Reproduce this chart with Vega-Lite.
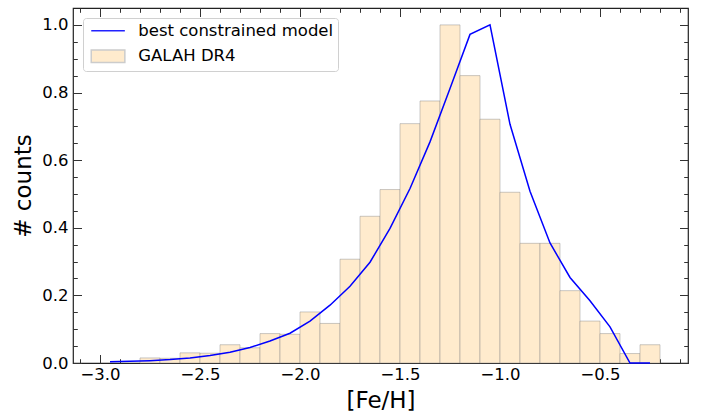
{
  "$schema": "https://vega.github.io/schema/vega-lite/v6.json",
  "width": 615,
  "height": 355,
  "autosize": "none",
  "padding": {"left": 73, "top": 8, "right": 15, "bottom": 51},
  "datasets": {
    "hist": [
      {"x0": -2.8, "x1": -2.7, "h": 0.015},
      {"x0": -2.7, "x1": -2.6, "h": 0.014},
      {"x0": -2.6, "x1": -2.5, "h": 0.030},
      {"x0": -2.5, "x1": -2.4, "h": 0.029},
      {"x0": -2.4, "x1": -2.3, "h": 0.054},
      {"x0": -2.3, "x1": -2.2, "h": 0.045},
      {"x0": -2.2, "x1": -2.1, "h": 0.087},
      {"x0": -2.1, "x1": -2.0, "h": 0.085},
      {"x0": -2.0, "x1": -1.9, "h": 0.151},
      {"x0": -1.9, "x1": -1.8, "h": 0.117},
      {"x0": -1.8, "x1": -1.7, "h": 0.307},
      {"x0": -1.7, "x1": -1.6, "h": 0.434},
      {"x0": -1.6, "x1": -1.5, "h": 0.513},
      {"x0": -1.5, "x1": -1.4, "h": 0.708},
      {"x0": -1.4, "x1": -1.3, "h": 0.775},
      {"x0": -1.3, "x1": -1.2, "h": 1.0},
      {"x0": -1.2, "x1": -1.1, "h": 0.850},
      {"x0": -1.1, "x1": -1.0, "h": 0.721},
      {"x0": -1.0, "x1": -0.9, "h": 0.505},
      {"x0": -0.9, "x1": -0.8, "h": 0.354},
      {"x0": -0.8, "x1": -0.7, "h": 0.354},
      {"x0": -0.7, "x1": -0.6, "h": 0.214},
      {"x0": -0.6, "x1": -0.5, "h": 0.124},
      {"x0": -0.5, "x1": -0.4, "h": 0.087},
      {"x0": -0.4, "x1": -0.3, "h": 0.028},
      {"x0": -0.3, "x1": -0.2, "h": 0.054}
    ],
    "model": [
      {"x": -2.95, "y": 0.004},
      {"x": -2.85, "y": 0.005},
      {"x": -2.75, "y": 0.007},
      {"x": -2.65, "y": 0.010},
      {"x": -2.55, "y": 0.015},
      {"x": -2.45, "y": 0.022},
      {"x": -2.35, "y": 0.032},
      {"x": -2.25, "y": 0.046},
      {"x": -2.15, "y": 0.065},
      {"x": -2.05, "y": 0.088},
      {"x": -1.95, "y": 0.124},
      {"x": -1.85, "y": 0.171},
      {"x": -1.75, "y": 0.227},
      {"x": -1.65, "y": 0.298},
      {"x": -1.55, "y": 0.398},
      {"x": -1.45, "y": 0.516},
      {"x": -1.35, "y": 0.654},
      {"x": -1.25, "y": 0.812},
      {"x": -1.15, "y": 0.972},
      {"x": -1.05, "y": 1.0},
      {"x": -0.95, "y": 0.706},
      {"x": -0.85, "y": 0.508},
      {"x": -0.75, "y": 0.355},
      {"x": -0.65, "y": 0.253},
      {"x": -0.55, "y": 0.184},
      {"x": -0.45, "y": 0.107},
      {"x": -0.35, "y": 0.0},
      {"x": -0.25, "y": 0.0}
    ],
    "series": [
      {"series": "best constrained model"},
      {"series": "GALAH DR4"}
    ]
  },
  "resolve": {"axis": {"x": "independent", "y": "independent"}},
  "layer": [
    {
      "data": {"name": "hist"},
      "mark": {"type": "bar", "fill": "#FFEBCD", "stroke": "#8a8a8a", "strokeOpacity": 0.45, "strokeWidth": 1},
      "encoding": {
        "x": {"field": "x0", "type": "quantitative",
          "scale": {"domain": [-3.135, -0.06], "nice": false, "zero": false},
          "axis": {"orient": "bottom", "values": [-3, -2.5, -2, -1.5, -1, -0.5], "format": ".1f", "ticks": false, "tickSize": 0, "labelPadding": 3, "title": "[Fe/H]", "titlePadding": 7}},
        "x2": {"field": "x1"},
        "y": {"field": "h", "type": "quantitative",
          "scale": {"domain": [0, 1.05], "nice": false, "zero": false},
          "axis": {"orient": "left", "values": [0, 0.2, 0.4, 0.6, 0.8, 1.0], "format": ".1f", "ticks": false, "tickSize": 0, "labelPadding": 5, "title": "# counts", "titlePadding": 6}},
        "y2": {"datum": 0}
      }
    },
    {
      "data": {"name": "model"},
      "mark": {"type": "line", "stroke": "#0000ff", "strokeWidth": 1.5},
      "encoding": {
        "x": {"field": "x", "type": "quantitative",
          "axis": {"orient": "bottom", "values": [-3, -2.5, -2, -1.5, -1, -0.5], "labels": false, "ticks": true, "tickSize": -8.5, "title": null}},
        "y": {"field": "y", "type": "quantitative",
          "axis": {"orient": "left", "values": [0, 0.2, 0.4, 0.6, 0.8, 1.0], "labels": false, "ticks": true, "tickSize": -8.5, "title": null}}
      }
    },
    {
      "data": {"name": "model"},
      "mark": {"type": "point", "opacity": 0},
      "encoding": {
        "x": {"field": "x", "type": "quantitative",
          "axis": {"orient": "bottom", "values": [-3.1, -3.0, -2.9, -2.8, -2.7, -2.6, -2.5, -2.4, -2.3, -2.2, -2.1, -2.0, -1.9, -1.8, -1.7, -1.6, -1.5, -1.4, -1.3, -1.2, -1.1, -1.0, -0.9, -0.8, -0.7, -0.6, -0.5, -0.4, -0.3, -0.2, -0.1], "labels": false, "ticks": true, "tickSize": -4.3, "title": null}},
        "y": {"field": "y", "type": "quantitative",
          "axis": {"orient": "left", "values": [0, 0.05, 0.1, 0.15, 0.2, 0.25, 0.3, 0.35, 0.4, 0.45, 0.5, 0.55, 0.6, 0.65, 0.7, 0.75, 0.8, 0.85, 0.9, 0.95, 1.0], "labels": false, "ticks": true, "tickSize": -4.3, "title": null}}
      }
    },
    {
      "data": {"name": "model"},
      "mark": {"type": "point", "opacity": 0},
      "encoding": {
        "x": {"field": "x", "type": "quantitative",
          "axis": {"orient": "top", "values": [-3, -2.5, -2, -1.5, -1, -0.5], "labels": false, "ticks": true, "tickSize": -8.5, "title": null}},
        "y": {"field": "y", "type": "quantitative",
          "axis": {"orient": "right", "values": [0, 0.2, 0.4, 0.6, 0.8, 1.0], "labels": false, "ticks": true, "tickSize": -8.5, "title": null}}
      }
    },
    {
      "data": {"name": "model"},
      "mark": {"type": "point", "opacity": 0},
      "encoding": {
        "x": {"field": "x", "type": "quantitative",
          "axis": {"orient": "top", "values": [-3.1, -3.0, -2.9, -2.8, -2.7, -2.6, -2.5, -2.4, -2.3, -2.2, -2.1, -2.0, -1.9, -1.8, -1.7, -1.6, -1.5, -1.4, -1.3, -1.2, -1.1, -1.0, -0.9, -0.8, -0.7, -0.6, -0.5, -0.4, -0.3, -0.2, -0.1], "labels": false, "ticks": true, "tickSize": -4.3, "title": null}},
        "y": {"field": "y", "type": "quantitative",
          "axis": {"orient": "right", "values": [0, 0.05, 0.1, 0.15, 0.2, 0.25, 0.3, 0.35, 0.4, 0.45, 0.5, 0.55, 0.6, 0.65, 0.7, 0.75, 0.8, 0.85, 0.9, 0.95, 1.0], "labels": false, "ticks": true, "tickSize": -4.3, "title": null}}
      }
    },
    {
      "data": {"name": "series"},
      "mark": {"type": "point", "opacity": 0},
      "encoding": {
        "shape": {"field": "series", "type": "nominal",
          "scale": {"domain": ["best constrained model", "GALAH DR4"], "range": ["M-2.8,0H2.8", "M-2.8,-1.05H2.8V1.05H-2.8Z"]},
          "legend": {"title": null}},
        "fill": {"field": "series", "type": "nominal",
          "scale": {"domain": ["best constrained model", "GALAH DR4"], "range": ["transparent", "#FFEBCD"]},
          "legend": {"title": null}},
        "stroke": {"field": "series", "type": "nominal",
          "scale": {"domain": ["best constrained model", "GALAH DR4"], "range": ["#2222ff", "#cccccc"]},
          "legend": {"title": null}}
      }
    }
  ],
  "config": {
    "font": "DejaVu Sans",
    "view": {"stroke": "#222222", "strokeWidth": 1.2},
    "legend": {
      "orient": "top-left",
      "offset": 10,
      "padding": 4.5,
      "fillColor": "#ffffff",
      "strokeColor": "#d0d0d0",
      "cornerRadius": 3,
      "labelFontSize": 16.5,
      "labelFont": "DejaVu Sans",
      "labelColor": "#000000",
      "labelLimit": 400,
      "labelOffset": 22,
      "rowPadding": 6.5,
      "symbolSize": 144,
      "symbolOffset": 12.3,
      "symbolOpacity": 1,
      "symbolStrokeWidth": 1.5
    },
    "axis": {
      "domain": false,
      "grid": false,
      "tickColor": "#333333",
      "tickWidth": 1,
      "labelFont": "DejaVu Sans",
      "labelFontSize": 16.5,
      "labelColor": "#000000",
      "titleFont": "DejaVu Sans",
      "titleFontSize": 23,
      "titleFontWeight": "normal",
      "titleColor": "#000000"
    }
  }
}
